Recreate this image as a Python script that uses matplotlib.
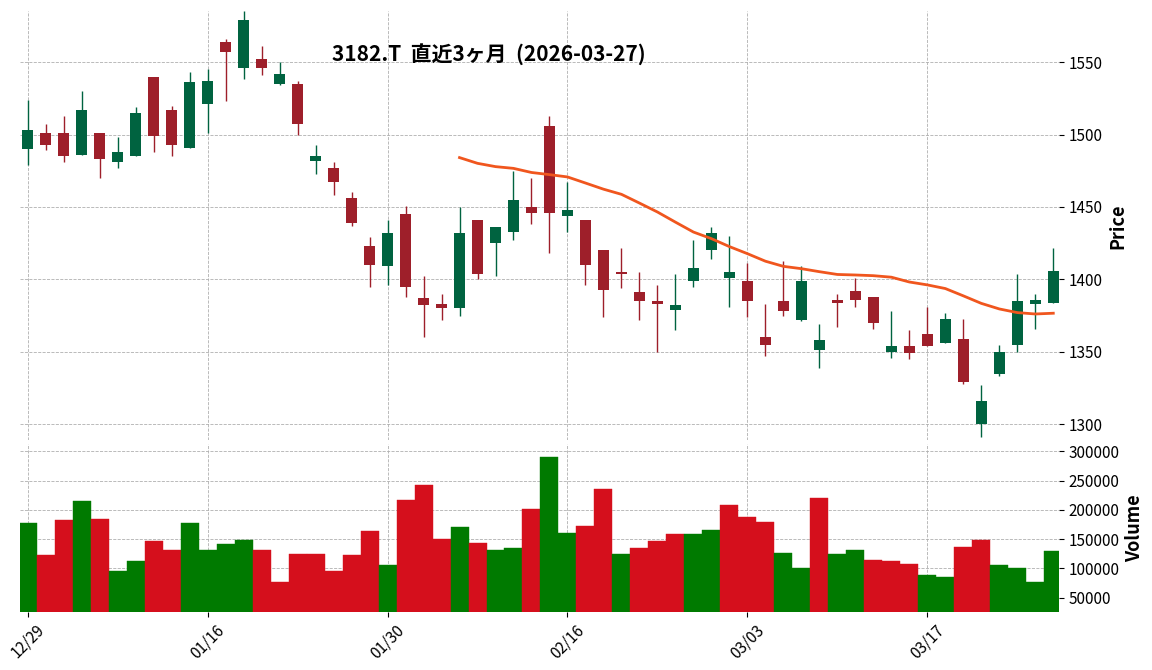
import numpy as np
import pandas as pd
import matplotlib
matplotlib.use("Agg")
import matplotlib.pyplot as plt

plt.rcParams['font.family'] = ['Noto Sans CJK JP', 'DejaVu Sans']

holidays = ['2025-12-31', '2026-01-01', '2026-01-02', '2026-01-12', '2026-02-11',
            '2026-02-23', '2026-03-20']
dates = pd.bdate_range('2025-12-29', '2026-03-27', freq='C', holidays=holidays)

opens = [1490, 1501, 1501, 1486, 1501, 1481, 1485, 1540, 1517, 1491,
         1521, 1564, 1546, 1552, 1535, 1535, 1482, 1477, 1456, 1423,
         1409, 1445, 1387, 1383, 1380, 1441, 1425, 1433, 1450, 1506,
         1444, 1441, 1420, 1405, 1391, 1385, 1379, 1399, 1420, 1401,
         1399, 1360, 1385, 1372, 1351, 1386, 1392, 1388, 1350, 1354,
         1362, 1356, 1359, 1300, 1335, 1355, 1383, 1384]
highs = [1524, 1507, 1513, 1530, 1501, 1498, 1519, 1540, 1520, 1543,
         1545, 1566, 1585, 1561, 1550, 1537, 1493, 1481, 1460, 1429,
         1441, 1451, 1402, 1390, 1450, 1441, 1436, 1475, 1470, 1513,
         1467, 1441, 1420, 1422, 1405, 1396, 1404, 1427, 1436, 1430,
         1411, 1383, 1413, 1409, 1369, 1390, 1401, 1388, 1378, 1365,
         1381, 1377, 1373, 1327, 1355, 1404, 1390, 1422]
lows = [1479, 1489, 1481, 1486, 1470, 1477, 1485, 1488, 1485, 1491,
        1501, 1523, 1538, 1541, 1534, 1500, 1473, 1458, 1437, 1395,
        1396, 1388, 1360, 1372, 1375, 1400, 1402, 1427, 1438, 1418,
        1433, 1396, 1374, 1394, 1372, 1350, 1365, 1395, 1414, 1381,
        1374, 1347, 1375, 1371, 1339, 1367, 1381, 1366, 1346, 1345,
        1354, 1356, 1328, 1291, 1333, 1350, 1366, 1384]
closes = [1503, 1493, 1485, 1517, 1483, 1488, 1515, 1499, 1493, 1536,
          1537, 1557, 1579, 1546, 1542, 1507, 1485, 1467, 1439, 1410,
          1432, 1395, 1382, 1380, 1432, 1404, 1436, 1455, 1446, 1446,
          1448, 1410, 1393, 1404, 1385, 1383, 1382, 1408, 1432, 1405,
          1385, 1355, 1378, 1399, 1358, 1384, 1386, 1370, 1354, 1349,
          1354, 1373, 1329, 1316, 1350, 1385, 1386, 1406]
volumes = [178000, 122000, 183000, 215000, 185000, 96000, 113000, 146000, 132000, 178000,
           132000, 142000, 148000, 132000, 76000, 125000, 125000, 96000, 122000, 164000,
           106000, 217000, 243000, 151000, 170000, 144000, 132000, 135000, 202000, 290000,
           161000, 173000, 235000, 125000, 134000, 146000, 158000, 158000, 166000, 209000,
           187000, 180000, 127000, 100000, 220000, 125000, 132000, 115000, 113000, 108000,
           88000, 85000, 136000, 149000, 105000, 100000, 76000, 130000]

df = pd.DataFrame({'Open': opens, 'High': highs, 'Low': lows, 'Close': closes,
                   'Volume': volumes}, index=dates)
ma = df['Close'].rolling(25).mean()
x = np.arange(len(df))

fig = plt.figure(figsize=(11.52, 6.7), dpi=100)
ax = fig.add_axes([0.017, 0.343, 0.902, 0.64])
axv = fig.add_axes([0.017, 0.087, 0.902, 0.25], sharex=ax)

up_c, dn_c = '#006340', '#9e1f2a'
for i in range(len(df)):
    o, h, l, c = opens[i], highs[i], lows[i], closes[i]
    col = up_c if c >= o else dn_c
    ax.vlines(x[i], l, h, color=col, lw=1)
    ax.bar(x[i], max(abs(c - o), 0.6), bottom=min(o, c), width=0.6, color=col)
ax.plot(x, ma, color='#f0561e', lw=2)

prev = df['Close'].shift(1).fillna(df['Close'].iloc[0] - 1)
vcols = ['#007a00' if c >= p else '#d50f1c' for c, p in zip(df['Close'], prev)]
axv.bar(x, df['Volume'], width=1.0, color=vcols, edgecolor=vcols, lw=0.3)

for a in (ax, axv):
    for s in a.spines.values():
        s.set_visible(False)
    a.yaxis.tick_right()
    a.yaxis.set_label_position('right')
    a.grid(True, ls='--', lw=0.6, color='#b0b0b0')
    a.set_axisbelow(True)

ax.set_ylim(1289, 1585)
ax.set_yticks([1300, 1350, 1400, 1450, 1500, 1550])
ax.set_ylabel('Price', fontsize=13, fontweight='bold')
ax.tick_params(axis='x', bottom=False, labelbottom=False)
ax.text(0.452, 0.90, '3182.T  直近3ヶ月  (2026-03-27)', transform=ax.transAxes,
        ha='center', va='center', fontsize=15, fontweight='bold')

axv.set_ylim(26000, 312000)
axv.set_yticks([50000, 100000, 150000, 200000, 250000, 300000])
axv.set_ylabel('Volume', fontsize=13, fontweight='bold')
axv.set_xlim(-0.45, 57.3)
ticks = list(range(0, len(df), 10))
axv.set_xticks(ticks)
axv.set_xticklabels([dates[i].strftime('%m/%d') for i in ticks], rotation=45)

for a in (ax, axv):
    a.tick_params(labelsize=11)

fig.savefig('out.png', dpi=100)
